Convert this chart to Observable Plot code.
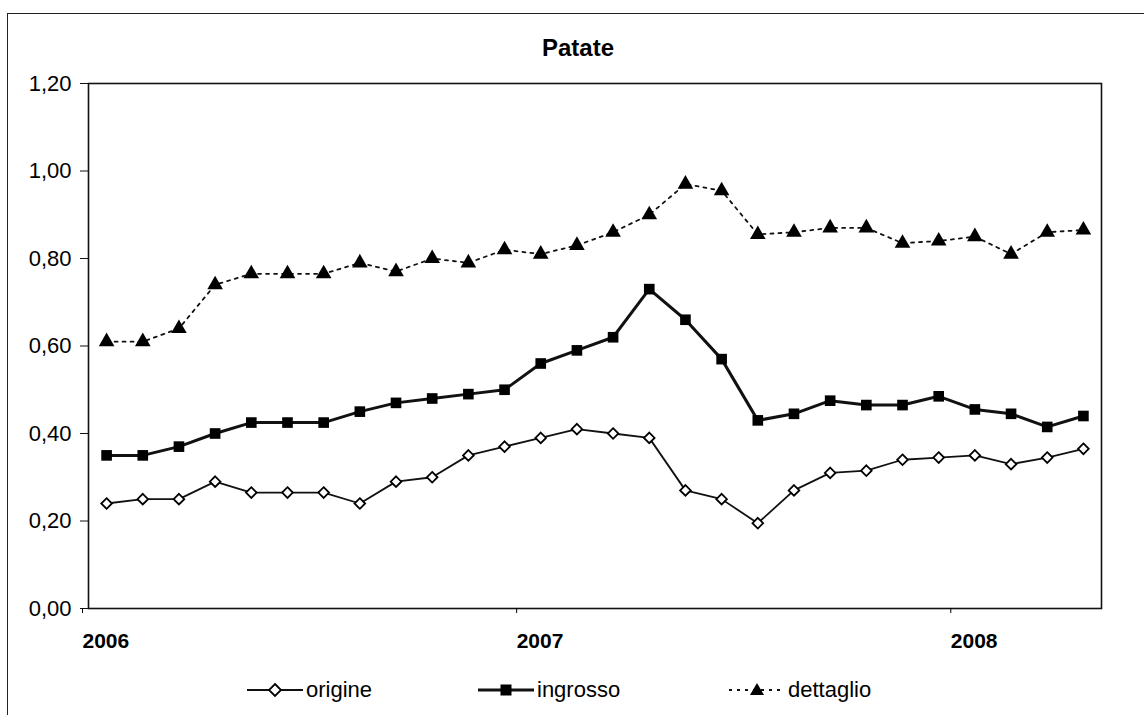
<!DOCTYPE html>
<html><head><meta charset="utf-8">
<script src="https://cdn.jsdelivr.net/npm/d3@7"></script>
<script src="https://cdn.jsdelivr.net/npm/@observablehq/plot@0.6"></script>
<style>
body{margin:0;background:#fff;font-family:"Liberation Sans",Arial,sans-serif;color:#000;}
#wrap{position:relative;width:1144px;height:715px;overflow:hidden;background:#fff;}
#border{position:absolute;left:7px;top:13px;width:1200px;height:800px;border-left:1.5px solid #222;border-top:1.5px solid #222;}
#title{position:absolute;top:36px;left:0;width:1156px;text-align:center;font-weight:bold;font-size:24px;line-height:24px;}
#chart{position:absolute;left:0;top:60px;}
.leg{position:absolute;top:679px;height:22px;font-size:22px;line-height:22px;display:flex;align-items:center;}
.leg svg{display:block;}
</style></head><body>
<div id="wrap">
  <div id="border"></div>
  <div id="title">Patate</div>
  <div id="chart"></div>
  <div id="legend"></div>
</div>
<script>
const months = ["gen-06","feb-06","mar-06","apr-06","mag-06","giu-06","lug-06","ago-06","set-06","ott-06","nov-06","dic-06",
  "gen-07","feb-07","mar-07","apr-07","mag-07","giu-07","lug-07","ago-07","set-07","ott-07","nov-07","dic-07",
  "gen-08","feb-08","mar-08","apr-08"];
const origine = [0.24,0.25,0.25,0.29,0.265,0.265,0.265,0.24,0.29,0.30,0.35,0.37,0.39,0.41,0.40,0.39,0.27,0.25,0.195,0.27,0.31,0.315,0.34,0.345,0.35,0.33,0.345,0.365];
const ingrosso = [0.35,0.35,0.37,0.40,0.425,0.425,0.425,0.45,0.47,0.48,0.49,0.50,0.56,0.59,0.62,0.73,0.66,0.57,0.43,0.445,0.475,0.465,0.465,0.485,0.455,0.445,0.415,0.44];
const dettaglio = [0.61,0.61,0.64,0.74,0.765,0.765,0.765,0.79,0.77,0.80,0.79,0.82,0.81,0.83,0.86,0.90,0.97,0.955,0.855,0.86,0.87,0.87,0.835,0.84,0.85,0.81,0.86,0.865];
const yearLabels = ["2006","2007","2008"];
const yTicks = [0,0.2,0.4,0.6,0.8,1.0,1.2];
const seriesNames = ["origine","ingrosso","dettaglio"];

const rows = (vals) => months.map((m, i) => ({month: m, i: i + 0.5, v: vals[i]}));
const dO = rows(origine), dI = rows(ingrosso), dD = rows(dettaglio);

const chart = Plot.plot({
  width: 1144,
  height: 600,
  marginTop: 23,
  marginBottom: 52,
  marginLeft: 88,
  marginRight: 43,
  style: {fontFamily: '"Liberation Sans", Arial, sans-serif', color: "#000", background: "transparent"},
  x: {domain: [0, months.length]},
  y: {domain: [0, 1.2]},
  marks: [
    Plot.frame({stroke: "#111", strokeWidth: 1.6}),
    Plot.axisY({ticks: yTicks, tickFormat: d => d.toFixed(2).replace(".", ","), tickSize: 8, tickPadding: 9, fontSize: 22, label: null, stroke: "#111"}),
    Plot.axisX({ticks: yearLabels.map((_, k) => k * 12), tickFormat: t => yearLabels[t / 12], tickSize: 5, tickPadding: 20, fontSize: 21, fontWeight: "bold", textAnchor: "start", dx: -6, label: null}),
    Plot.line(dD, {x: "i", y: "v", stroke: "#111", strokeWidth: 1.8, strokeDasharray: "3,5"}),
    Plot.line(dI, {x: "i", y: "v", stroke: "#111", strokeWidth: 3}),
    Plot.line(dO, {x: "i", y: "v", stroke: "#111", strokeWidth: 1.8}),
    Plot.dot(dD, {x: "i", y: "v", symbol: "triangle", r: 5.8, fill: "#000", stroke: "none"}),
    Plot.dot(dI, {x: "i", y: "v", symbol: "square", r: 6, fill: "#000", stroke: "none"}),
    Plot.dot(dO, {x: "i", y: "v", symbol: "diamond2", r: 4.8, fill: "#fff", stroke: "#000", strokeWidth: 1.8})
  ]
});
document.getElementById("chart").appendChild(chart);

// legend
const legend = document.getElementById("legend");
const legPos = [{sx: 247, tx: 306}, {sx: 478, tx: 537}, {sx: 729, tx: 788}];
const legSym = [
  '<line x1="0" y1="11" x2="56" y2="11" stroke="#111" stroke-width="1.8"/><path d="M28,5L34,11L28,17L22,11Z" fill="#fff" stroke="#000" stroke-width="1.8"/>',
  '<line x1="0" y1="11" x2="56" y2="11" stroke="#111" stroke-width="3"/><rect x="22.5" y="5.5" width="11" height="11" fill="#000"/>',
  '<line x1="0" y1="11" x2="56" y2="11" stroke="#111" stroke-width="1.8" stroke-dasharray="3,5"/><path d="M28,4L35,16L21,16Z" fill="#000"/>'
];
seriesNames.forEach((name, k) => {
  const s = document.createElement("div");
  s.className = "leg";
  s.style.left = legPos[k].sx + "px";
  s.innerHTML = '<svg width="56" height="22">' + legSym[k] + '</svg>';
  legend.appendChild(s);
  const t = document.createElement("div");
  t.className = "leg";
  t.style.left = legPos[k].tx + "px";
  t.textContent = name;
  legend.appendChild(t);
});
</script>
</body></html>
